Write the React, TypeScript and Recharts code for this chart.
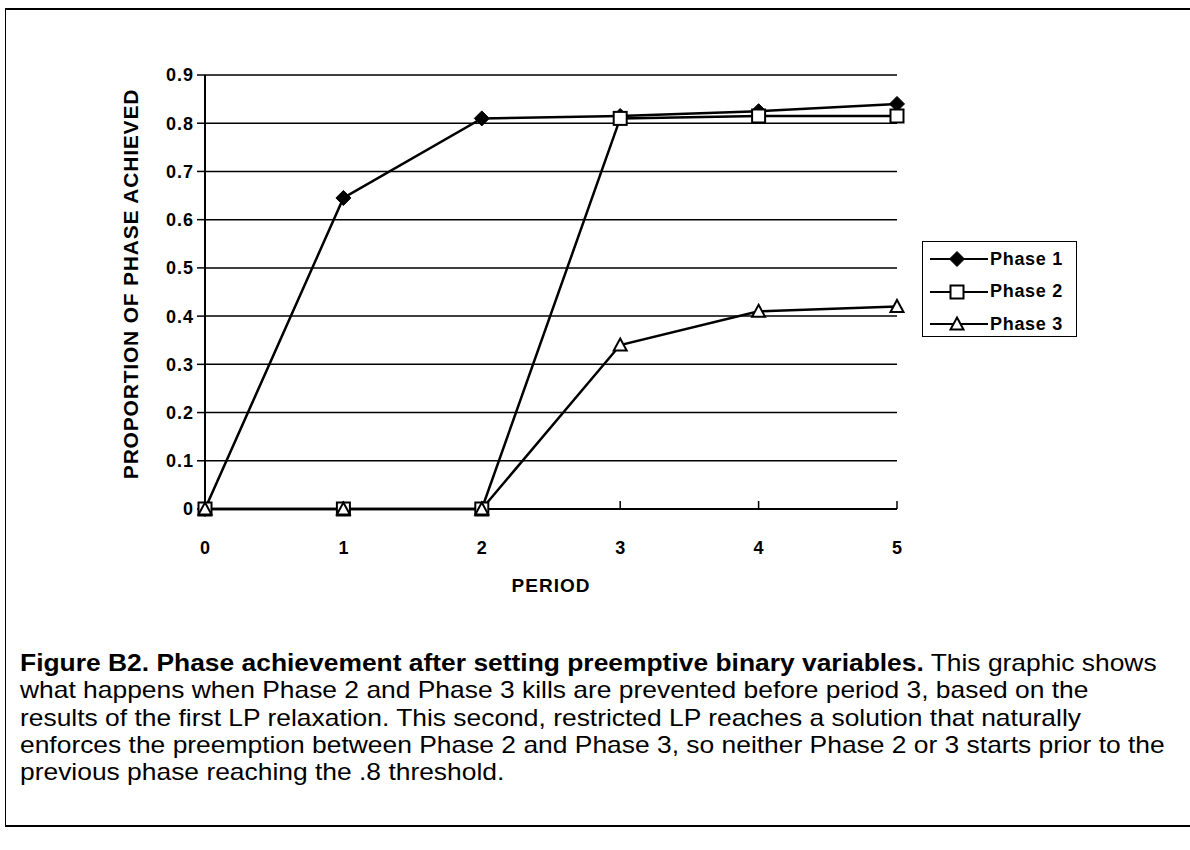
import { LineChart, Line, XAxis, YAxis, CartesianGrid, Legend } from "recharts";

const periods = [0, 1, 2, 3, 4, 5];
const phase1 = [0, 0.645, 0.81, 0.815, 0.825, 0.84];
const phase2 = [0, 0, 0, 0.81, 0.815, 0.815];
const phase3 = [0, 0, 0, 0.34, 0.41, 0.42];
const yTicks = [0, 0.1, 0.2, 0.3, 0.4, 0.5, 0.6, 0.7, 0.8, 0.9];
const seriesNames = ["Phase 1", "Phase 2", "Phase 3"];

const data = periods.map((p, i) => ({
  period: p,
  p1: phase1[i],
  p2: phase2[i],
  p3: phase3[i],
}));

const FONT = '"Liberation Sans", Arial, sans-serif';

function Diamond({ cx, cy }: any) {
  if (cx == null || cy == null) return null;
  const r = 7.5;
  return <path d={`M${cx},${cy - r}L${cx + r},${cy}L${cx},${cy + r}L${cx - r},${cy}Z`} fill="#000" stroke="#000" />;
}

function Square({ cx, cy }: any) {
  if (cx == null || cy == null) return null;
  return <rect x={cx - 6.5} y={cy - 6.5} width={13} height={13} fill="#fff" stroke="#000" strokeWidth={2} />;
}

function Triangle({ cx, cy }: any) {
  if (cx == null || cy == null) return null;
  return <path d={`M${cx},${cy - 6.5}L${cx + 6.5},${cy + 5.5}L${cx - 6.5},${cy + 5.5}Z`} fill="#fff" stroke="#000" strokeWidth={2} />;
}

const markers = [Diamond, Square, Triangle];

function LegendBox() {
  return (
    <div style={{ border: "1.5px solid #000", width: 155, height: 96, background: "#fff", boxSizing: "border-box", paddingTop: 1 }}>
      {seriesNames.map((name, i) => {
        const M = markers[i];
        return (
          <div key={name} style={{ display: "flex", alignItems: "center", height: 32.5 }}>
            <svg width={58} height={20} style={{ marginLeft: 7 }}>
              <line x1={0} y1={10} x2={58} y2={10} stroke="#000" strokeWidth={2} />
              <M cx={27} cy={10} />
            </svg>
            <span style={{ fontFamily: FONT, fontWeight: "bold", fontSize: 18, letterSpacing: 0.7, marginLeft: 2 }}>{name}</span>
          </div>
        );
      })}
    </div>
  );
}

export default function App() {
  return (
    <div style={{ position: "absolute", left: 0, top: 0, width: 1190, height: 850, background: "#fff", overflow: "hidden" }}>
      <div
        style={{
          position: "absolute",
          left: 5,
          top: 8,
          width: 1190,
          height: 815,
          borderTop: "2px solid #000",
          borderLeft: "1.5px solid #000",
          borderBottom: "2px solid #000",
        }}
      />
      <div style={{ position: "absolute", left: 0, top: 0 }}>
        <LineChart width={1190} height={620} data={data} margin={{ top: 75, right: 293, left: 145, bottom: 81 }}>
          <CartesianGrid vertical={false} stroke="#000" strokeWidth={1.5} />
          <XAxis
            dataKey="period"
            type="number"
            domain={[0, 5]}
            ticks={periods}
            height={30}
            axisLine={{ stroke: "#000", strokeWidth: 2 }}
            tickLine={{ stroke: "#000", strokeWidth: 1.5 }}
            tickSize={-8}
            tickMargin={40}
            tick={{ fill: "#000", fontFamily: FONT, fontWeight: "bold", fontSize: 18 }}
            label={{
              content: () => (
                <text x={551} y={592} textAnchor="middle" fontFamily={FONT} fontWeight="bold" fontSize={19} letterSpacing={1} fill="#000">
                  PERIOD
                </text>
              ),
            }}
          />
          <YAxis
            type="number"
            domain={[0, 0.9]}
            ticks={yTicks}
            width={60}
            interval={0}
            axisLine={{ stroke: "#000", strokeWidth: 2 }}
            tickLine={{ stroke: "#000", strokeWidth: 1.5 }}
            tickSize={8}
            tickMargin={3}
            tickFormatter={(v: number) => (v === 0 ? "0" : v.toFixed(1))}
            tick={{ fill: "#000", fontFamily: FONT, fontWeight: "bold", fontSize: 18, letterSpacing: 1 }}
            label={{
              content: () => (
                <text
                  x={138}
                  y={284}
                  transform="rotate(-90 138 284)"
                  textAnchor="middle"
                  fontFamily={FONT}
                  fontWeight="bold"
                  fontSize={21}
                  letterSpacing={0.8}
                  fill="#000"
                >
                  PROPORTION OF PHASE ACHIEVED
                </text>
              ),
            }}
          />
          <Legend
            layout="vertical"
            align="center"
            verticalAlign="middle"
            wrapperStyle={{ position: "absolute", left: 922, top: 241, width: 155 }}
            content={() => <LegendBox />}
          />
          <Line dataKey="p1" name="Phase 1" stroke="#000" strokeWidth={2.5} dot={<Diamond />} isAnimationActive={false} />
          <Line dataKey="p2" name="Phase 2" stroke="#000" strokeWidth={2.5} dot={<Square />} isAnimationActive={false} />
          <Line dataKey="p3" name="Phase 3" stroke="#000" strokeWidth={2.5} dot={<Triangle />} isAnimationActive={false} />
        </LineChart>
      </div>
      <div
        style={{
          position: "absolute",
          left: 20,
          top: 649,
          fontFamily: FONT,
          fontSize: 24,
          lineHeight: "27.3px",
          color: "#000",
          whiteSpace: "nowrap",
          transform: "scaleX(1.1)",
          transformOrigin: "left top",
        }}
      >
        <b>Figure B2. Phase achievement after setting preemptive binary variables.</b> This graphic shows
        <br />
        what happens when Phase 2 and Phase 3 kills are prevented before period 3, based on the
        <br />
        results of the first LP relaxation. This second, restricted LP reaches a solution that naturally
        <br />
        enforces the preemption between Phase 2 and Phase 3, so neither Phase 2 or 3 starts prior to the
        <br />
        previous phase reaching the .8 threshold.
      </div>
    </div>
  );
}
